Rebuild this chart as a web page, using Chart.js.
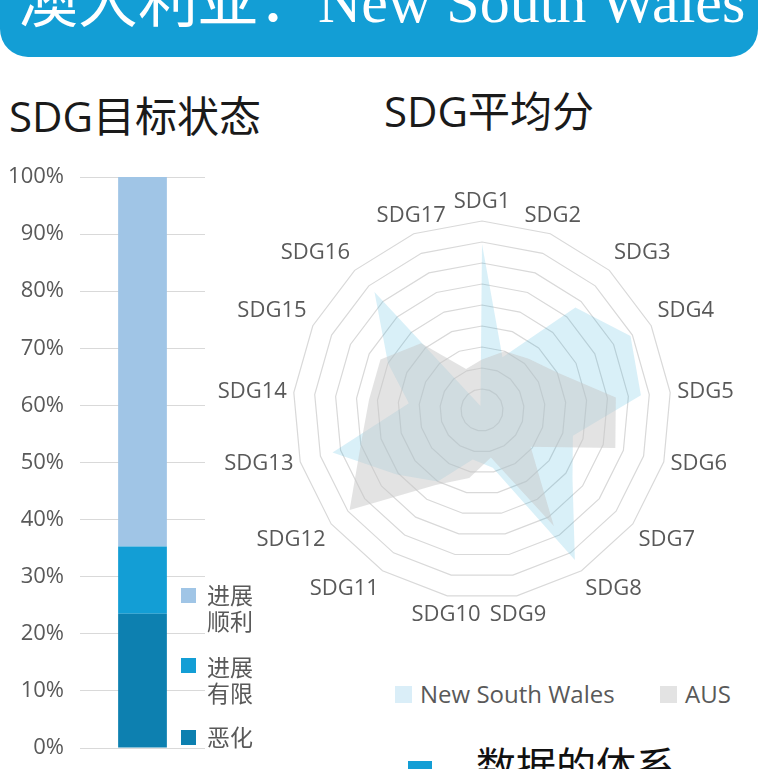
<!DOCTYPE html>
<html>
<head>
<meta charset="utf-8">
<script src="https://cdn.jsdelivr.net/npm/chart.js@4.4.0/dist/chart.umd.min.js"></script>
<style>
  body { margin: 0; width: 763px; height: 769px; overflow: hidden; background: #fff; position: relative;
         font-family: "Open Sans", "Noto Sans CJK SC", sans-serif; }
  #header { position: absolute; left: 0; top: -40px; width: 758px; height: 97px; background: #139ed5;
            border-radius: 0 0 28px 28px; overflow: hidden; }
  #header span { position: absolute; left: 18px; top: 12px; color: #fff; white-space: nowrap; line-height: 60px;
                 font-size: 60px; font-family: "Liberation Serif", "Noto Sans CJK SC", serif; }
  .title { position: absolute; font-size: 42px; line-height: 42px; color: #1a1a1a; white-space: nowrap; }
  .leg { position: absolute; color: #595959; white-space: nowrap; }
  .box { position: absolute; }
  canvas { position: absolute; }
  #footer { position: absolute; left: 476px; top: 746px; font-size: 40px; line-height: 40px; color: #111; white-space: nowrap; }
  #footmark { position: absolute; left: 408px; top: 761px; width: 24px; height: 20px; background: #139ed5; }
</style>
</head>
<body>
<div id="header"><span>澳大利亚：New South Wales</span></div>

<div class="title" style="left:9px; top:95px;">SDG目标状态</div>
<div class="title" style="left:384px; top:90px;">SDG平均分</div>

<canvas id="barChart" width="260" height="605" style="left:0; top:160px;"></canvas>
<canvas id="radarChart" width="544" height="450" style="left:210px; top:180px;"></canvas>

<!-- 条形图图例 -->
<div class="box" style="left:181px; top:588px; width:15px; height:15px; background:#a0c5e6;"></div>
<div class="leg" style="left:207px; top:582px; font-size:23px; line-height:26px;">进展<br>顺利</div>
<div class="box" style="left:181px; top:658px; width:15px; height:15px; background:#139ed5;"></div>
<div class="leg" style="left:207px; top:654px; font-size:23px; line-height:26px;">进展<br>有限</div>
<div class="box" style="left:181px; top:730px; width:15px; height:15px; background:#0d80b0;"></div>
<div class="leg" style="left:207px; top:724px; font-size:23px; line-height:26px;">恶化</div>

<!-- 雷达图图例 -->
<div class="box" style="left:395px; top:686px; width:17px; height:17px; background:#daeef8;"></div>
<div class="leg" style="left:420px; top:680px; font-size:24px; line-height:28px;">New South Wales</div>
<div class="box" style="left:660px; top:686px; width:17px; height:17px; background:#e3e3e3;"></div>
<div class="leg" style="left:685px; top:680px; font-size:24px; line-height:28px;">AUS</div>

<div id="footmark"></div>
<div id="footer">数据的体系</div>

<script>
"use strict";

// 目标状态（百分比）
const barCategories = ['SDG'];
const worsening = [23.5];
const limitedProgress = [11.8];
const onTrack = [64.7];
const statusNames = ['恶化', '进展有限', '进展顺利'];

// 雷达图数据
const sdgLabels = ['SDG1', 'SDG2', 'SDG3', 'SDG4', 'SDG5', 'SDG6', 'SDG7', 'SDG8', 'SDG9',
    'SDG10', 'SDG11', 'SDG12', 'SDG13', 'SDG14', 'SDG15', 'SDG16', 'SDG17'];
const nswScores = [79, 27, 66, 79, 76, 45, 54, 84, 28, 24, 40, 51, 74, 35, 50, 76, 2];
const ausScores = [24, 30, 33, 40, 64, 66, 29, 65, 23, 33, 42, 79, 60, 54, 54, 43, 21];
const seriesNames = ['New South Wales', 'AUS'];

const gridColor = '#d9d9d9';
const textColor = '#595959';

// 堆叠柱状图
const barChartEl = document.getElementById('barChart');

new Chart(barChartEl, {
    type: 'bar',
    data: {
        labels: barCategories,
        datasets: [
            { label: statusNames[0], data: worsening, backgroundColor: '#0d80b0' },
            { label: statusNames[1], data: limitedProgress, backgroundColor: '#139ed5' },
            { label: statusNames[2], data: onTrack, backgroundColor: '#a0c5e6' }
        ]
    },
    options: {
        responsive: false,
        animation: false,
        layout: { padding: { left: 0, right: 55, top: 17, bottom: 17 } },
        categoryPercentage: 1,
        barPercentage: 0.39,
        plugins: { legend: { display: false }, tooltip: { enabled: false } },
        scales: {
            x: { stacked: true, display: false },
            y: {
                stacked: true,
                min: 0,
                max: 100,
                border: { display: false },
                // 刻度线透明，只用来把标签往左推
                grid: { color: gridColor, drawTicks: true, tickLength: 16, tickColor: 'rgba(0,0,0,0)' },
                ticks: {
                    stepSize: 10,
                    padding: 0,
                    color: textColor,
                    font: { family: 'Open Sans', size: 22 },
                    callback: (v) => v + '%'
                },
                afterFit: (scale) => { scale.width = 80; }
            }
        }
    }
});

// 雷达图的轴标签（Excel 式摆放）
const sdgLabelPlugin = {
    id: 'sdgLabels',
    afterDraw(chart) {
        const scale = chart.scales.r;
        const ctx = chart.ctx;
        ctx.save();
        ctx.font = '22px "Open Sans"';
        ctx.fillStyle = textColor;
        ctx.textAlign = 'center';
        ctx.textBaseline = 'middle';
        chart.data.labels.forEach((label, i) => {
            const pos = scale.getPointPosition(i, scale.drawingArea + 7);
            const a = scale.getIndexAngle(i);
            const w = ctx.measureText(label).width;
            const s = Math.sin(a), c = Math.cos(a);
            const dx = Math.abs(s) < 0.5 ? 0 : Math.sign(s) * w / 2;
            const dy = Math.abs(c) < 0.35 ? 0 : -Math.sign(c) * 12;
            ctx.fillText(label, pos.x + dx, pos.y + dy);
        });
        ctx.restore();
    }
};

const radarChartEl = document.getElementById('radarChart');

new Chart(radarChartEl, {
    type: 'radar',
    data: {
        labels: sdgLabels,
        datasets: [
            {
                label: seriesNames[0],
                data: nswScores,
                order: 1,
                fill: true,
                backgroundColor: 'rgba(19, 159, 214, 0.16)',
                borderWidth: 0,
                pointRadius: 0
            },
            {
                label: seriesNames[1],
                data: ausScores,
                order: 0,
                fill: true,
                backgroundColor: 'rgba(200, 200, 200, 0.5)',
                borderWidth: 0,
                pointRadius: 0
            }
        ]
    },
    options: {
        responsive: false,
        animation: false,
        layout: { padding: { top: 41, bottom: 31, left: 0, right: 0 } },
        plugins: { legend: { display: false }, tooltip: { enabled: false } },
        scales: {
            r: {
                min: 0,
                max: 90,
                ticks: { display: false, stepSize: 10 },
                grid: { color: gridColor, lineWidth: 1.2, circular: false },
                angleLines: { display: false },
                pointLabels: { display: false }
            }
        }
    },
    plugins: [sdgLabelPlugin]
});
</script>
</body>
</html>
